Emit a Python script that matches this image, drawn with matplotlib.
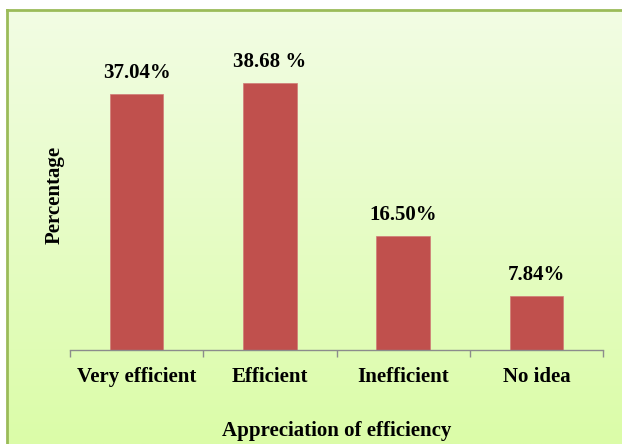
import numpy as np
from matplotlib import pyplot as plt
from matplotlib.ticker import FixedLocator

categories = ['Very efficient', 'Efficient', 'Inefficient', 'No idea']
values = [37.04, 38.68, 16.50, 7.84]
labels = ['37.04%', '38.68 %', '16.50%', '7.84%']

plt.rcParams['font.family'] = ['Liberation Serif', 'DejaVu Serif']
plt.rcParams['font.weight'] = 'bold'

fig = plt.figure(figsize=(6.22, 4.44), dpi=100)

# gradient background with green frame
bg = fig.add_axes([7/622, 0, 1 - 7/622, 434/444])
grad = np.linspace(0, 1, 256)[:, None]
top = np.array([0xF2, 0xFD, 0xE4]) / 255
bot = np.array([0xDB, 0xFC, 0xA8]) / 255
img = top * (1 - grad[..., None]) + bot * grad[..., None]
img = np.repeat(img, 2, axis=1)
bg.imshow(img, aspect='auto', extent=[0, 1, 0, 1])
bg.set_xlim(0, 1)
bg.set_ylim(0, 1)
bg.set_xticks([])
bg.set_yticks([])
for s in ['left', 'top']:
    bg.spines[s].set_color('#9BBB59')
    bg.spines[s].set_linewidth(2)
for s in ['right', 'bottom']:
    bg.spines[s].set_visible(False)

ax = fig.add_axes([70/622, 94/444, 533/622, 311/444])
ax.patch.set_alpha(0)
x = np.arange(len(categories))
bars = ax.bar(x, values, width=0.4, color='#C0504D', edgecolor='#D07a77', linewidth=0.5)
ax.set_xlim(-0.5, len(categories) - 0.5)
ax.set_ylim(0, 45)

for b, lab in zip(bars, labels):
    ax.annotate(lab, (b.get_x() + b.get_width() / 2, b.get_height()),
                xytext=(0, 8), textcoords='offset points',
                ha='center', va='bottom', fontsize=15, fontweight='bold')

ax.set_xticks(x)
ax.set_xticklabels(categories, fontsize=15, fontweight='bold')
ax.tick_params(axis='x', which='major', length=0, pad=12)
ax.xaxis.set_minor_locator(FixedLocator(np.arange(len(categories) + 1) - 0.5))
ax.tick_params(axis='x', which='minor', length=5, color='#8C8C8C', width=1)
ax.set_yticks([])
for s in ['left', 'top', 'right']:
    ax.spines[s].set_visible(False)
ax.spines['bottom'].set_color('#8C8C8C')
ax.spines['bottom'].set_linewidth(1)

ax.set_xlabel('Appreciation of efficiency', fontsize=15, fontweight='bold', labelpad=25)
ax.set_ylabel('Percentage', fontsize=15, fontweight='bold', labelpad=4)

fig.savefig('out.png', dpi=100)
